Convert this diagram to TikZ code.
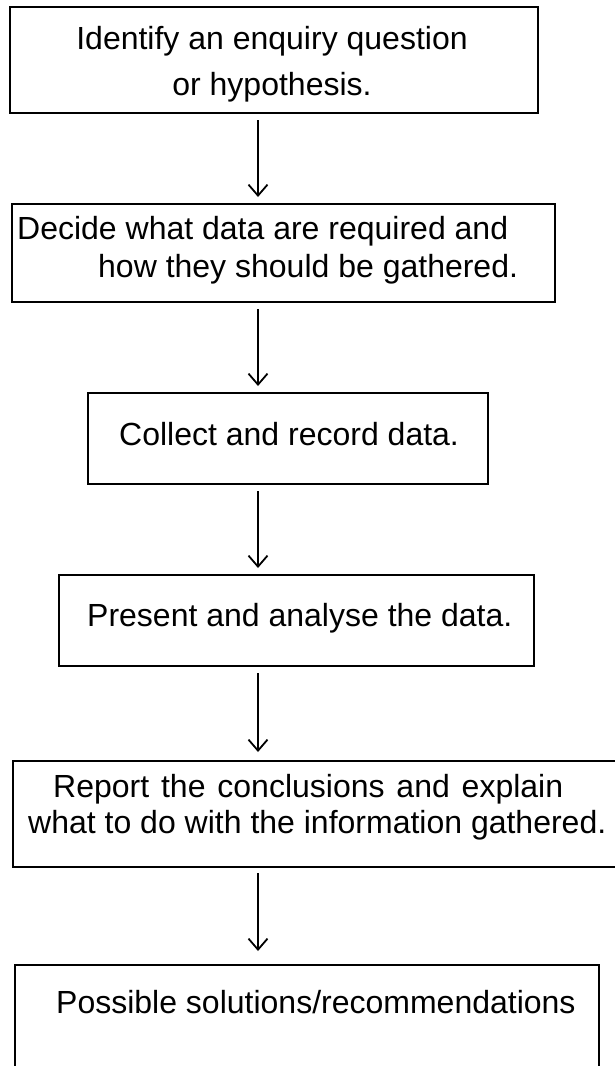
\documentclass[tikz,border=0pt]{standalone}
\usepackage{fontspec}
\setmainfont{Liberation Sans}
\usetikzlibrary{arrows.meta}

\begin{document}
\begin{tikzpicture}[x=1pt, y=-1pt,
  >={Straight Barb[length=11pt,width=19pt]},
  box/.style={draw, line width=2.6pt, inner sep=0pt, outer sep=0pt},
  txt/.style={inner sep=0pt, font=\fontsize{32}{38}\selectfont},
  flow/.style={->, line width=1.8pt, shorten <=7pt, shorten >=7pt}]
  \useasboundingbox (0,0) rectangle (615,1066);
  % Boxes.
  \node[box, minimum width=528pt, minimum height=106pt] (b1) at (274,60) {};
  \node[box, minimum width=543pt, minimum height=98pt]  (b2) at (283.5,253) {};
  \node[box, minimum width=400pt, minimum height=91pt]  (b3) at (288,438.5) {};
  \node[box, minimum width=475pt, minimum height=91pt]  (b4) at (296.5,620.5) {};
  \node[box, minimum width=607pt, minimum height=106pt] (b5) at (316.5,814) {};
  \node[box, minimum width=584pt, minimum height=115pt] (b6) at (307,1022.5) {};
  % Texts.
  \node[txt, anchor=base] (t1a) at (272,49) {Identify an enquiry question};
  \node[txt, anchor=base] (t1b) at (272,95) {or hypothesis.};
  \node[txt, anchor=base west] (t2a) at (17,239) {Decide what data are required and};
  \node[txt, anchor=base west] (t2b) at (98,277) {how they should be gathered.};
  \node[txt, anchor=base west] (t3) at (119,445) {Collect and record data.};
  \node[txt, anchor=base west] (t4) at (87,626) {Present and analyse the data.};
  \node[txt, anchor=base west] (t5a) at (53,797)
    {\makebox[510pt][s]{Report the conclusions and explain}};
  \node[txt, anchor=base west] (t5b) at (28,833) {what to do with the information gathered.};
  \node[txt, anchor=base west] (t6) at (56,1013) {Possible solutions/recommendations};
  % Arrows.
  \coordinate (axis) at (258,0);
  \draw[flow] (b1.south -| axis) -- (b2.north -| axis);
  \draw[flow] (b2.south -| axis) -- (b3.north -| axis);
  \draw[flow] (b3.south -| axis) -- (b4.north -| axis);
  \draw[flow, shorten >=9pt] (b4.south -| axis) -- (b5.north -| axis);
  \draw[flow, shorten <=6pt, shorten >=14pt] (b5.south -| axis) -- (b6.north -| axis);
\end{tikzpicture}
\end{document}
